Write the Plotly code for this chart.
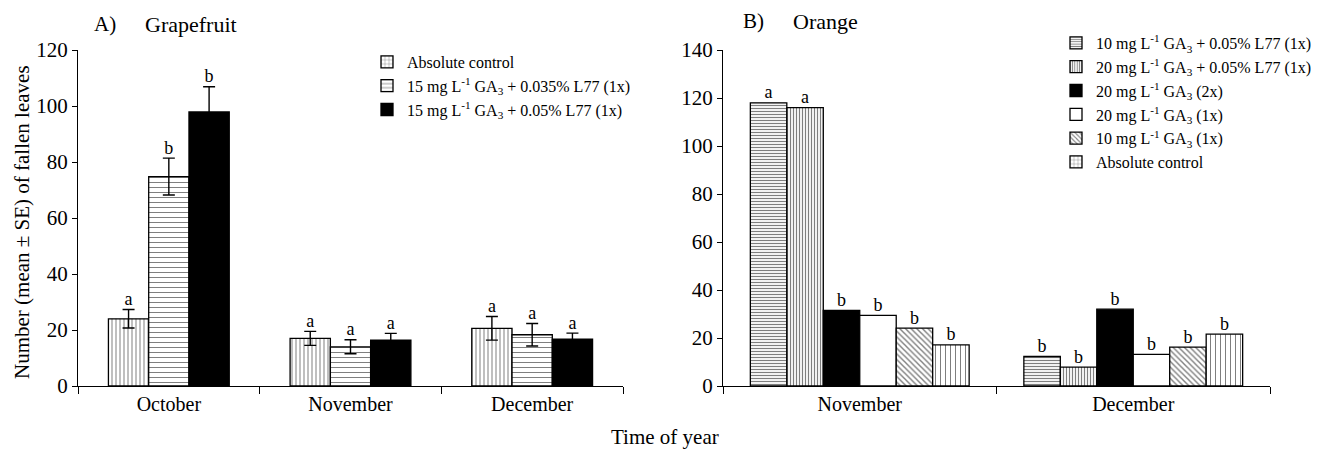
import plotly.graph_objects as go

# ---------------- data ----------------
months_a = ["October", "November", "December"]
series_a = ["Absolute control",
            "15 mg L<sup>-1</sup> GA<sub>3</sub> + 0.035% L77 (1x)",
            "15 mg L<sup>-1</sup> GA<sub>3</sub> + 0.05% L77 (1x)"]
values_a = [[24.0, 17.0, 20.6],
            [74.8, 14.0, 18.3],
            [97.9, 16.4, 16.7]]
se_a = [[3.3, 2.5, 4.2],
        [6.6, 2.5, 4.0],
        [9.0, 2.4, 2.2]]
letters_a = [["a", "a", "a"],
             ["b", "a", "a"],
             ["b", "a", "a"]]

months_b = ["November", "December"]
series_b = ["10 mg L<sup>-1</sup> GA<sub>3</sub> + 0.05% L77 (1x)",
            "20 mg L<sup>-1</sup> GA<sub>3</sub> + 0.05% L77 (1x)",
            "20 mg L<sup>-1</sup> GA<sub>3</sub> (2x)",
            "20 mg L<sup>-1</sup> GA<sub>3</sub> (1x)",
            "10 mg L<sup>-1</sup> GA<sub>3</sub> (1x)",
            "Absolute control"]
values_b = [[118.0, 12.3],
            [116.0, 7.9],
            [31.5, 32.0],
            [29.4, 13.2],
            [24.1, 16.2],
            [17.1, 21.6]]
letters_b = [["a", "b"],
             ["a", "b"],
             ["b", "b"],
             ["b", "b"],
             ["b", "b"],
             ["b", "b"]]

# ---------------- styles ----------------
FONT = "Liberation Serif"
style_a = [dict(color="white", shape="|", size=4, solidity=0.25),
           dict(color="white", shape="-", size=5, solidity=0.2),
           dict(color="black", shape="", size=4, solidity=0.2)]
legend_style_a = [dict(color="white", shape="+", size=5, solidity=0.2)] + style_a[1:]
style_b = [dict(color="white", shape="-", size=3, solidity=0.4),
           dict(color="white", shape="|", size=3, solidity=0.4),
           dict(color="black", shape="", size=3, solidity=0.3),
           dict(color="white", shape="", size=3, solidity=0.3),
           dict(color="white", shape="\\", size=4, solidity=0.35),
           dict(color="white", shape="|", size=5, solidity=0.2)]
legend_style_b = style_b[:5] + [dict(color="white", shape="+", size=5, solidity=0.2)]

# page body has an 8px margin: figure coordinates = screen coordinates - 8
OFF = 8
W, H = 1328 - OFF, 449 - OFF
MT, MB = 50 - OFF, H - (386 - OFF)


def px(xs):
    return (xs - OFF) / W


def py(ys):
    return (H - MB - (ys - OFF)) / (H - MT - MB)


fig = go.Figure()


def marker_of(st):
    m = dict(color=st["color"], line=dict(color="black", width=1.3))
    if st["shape"]:
        m["pattern"] = dict(shape=st["shape"], size=st["size"], solidity=st["solidity"],
                            fgcolor="black", bgcolor="white", fillmode="overlay")
    return m


def add_panel(cats, names, vals, ses, letters, styles, lstyles, group_w, xa, ya, legend):
    n = len(names)
    bw = group_w / n
    for i in range(n):
        xs = [j + (i - (n - 1) / 2) * bw for j in range(len(cats))]
        fig.add_trace(go.Bar(x=[None], y=[None], name=names[i], marker=marker_of(lstyles[i]),
                             xaxis=xa, yaxis=ya, legend=legend,
                             showlegend=True, hoverinfo="skip"))
        err = None
        tops = list(vals[i])
        if ses is not None:
            err = dict(type="data", array=ses[i], visible=True, color="black",
                       thickness=1.4, width=6)
            tops = [v + s for v, s in zip(vals[i], ses[i])]
        fig.add_trace(go.Bar(x=xs, y=vals[i], width=[bw] * len(cats), name=names[i],
                             marker=marker_of(styles[i]), error_y=err,
                             xaxis=xa, yaxis=ya, showlegend=False))
        fig.add_trace(go.Scatter(x=xs, y=tops, mode="text", text=letters[i],
                                 textposition="top center",
                                 textfont=dict(family=FONT, size=18, color="black"),
                                 xaxis=xa, yaxis=ya, showlegend=False, hoverinfo="skip"))


add_panel(months_a, series_a, values_a, se_a, letters_a, style_a, legend_style_a,
          0.665, "x", "y", "legend")
add_panel(months_b, series_b, values_b, None, letters_b, style_b, legend_style_b,
          0.80, "x2", "y2", "legend2")


def xaxis_cfg(cats, dom):
    return dict(domain=dom, range=[-0.5, len(cats) - 0.5], tickmode="array",
                tickvals=list(range(len(cats))), ticktext=cats, ticks="",
                showline=True, linecolor="black", linewidth=1.3, showgrid=False,
                zeroline=False, tickfont=dict(family=FONT, size=20, color="black"),
                minor=dict(tickmode="linear", tick0=-0.5, dtick=1, ticks="outside",
                           ticklen=7, tickcolor="black", tickwidth=1.2, showgrid=False))


def yaxis_cfg(rng, anchor):
    return dict(range=rng, dtick=20, ticks="outside", ticklen=5, tickcolor="black",
                tickwidth=1.2, showline=True, linecolor="black", linewidth=1.3,
                showgrid=False, zeroline=False, anchor=anchor,
                tickfont=dict(family=FONT, size=21, color="black"))


def note(text, xs, ys, size, anchor="left", angle=0):
    return dict(text=text, x=px(xs), y=py(ys), xref="paper", yref="paper",
                xanchor=anchor, yanchor="middle", showarrow=False, textangle=angle,
                font=dict(family=FONT, size=size, color="black"))


fig.update_layout(
    width=W, height=H,
    margin=dict(l=0, r=0, t=MT, b=MB),
    paper_bgcolor="white", plot_bgcolor="white",
    barmode="overlay",
    font=dict(family=FONT, color="black"),
    xaxis=xaxis_cfg(months_a, [px(78), px(623)]),
    yaxis=yaxis_cfg([0, 120], "x"),
    xaxis2=dict(xaxis_cfg(months_b, [px(723), px(1270)]), anchor="y2"),
    yaxis2=yaxis_cfg([0, 140], "x2"),
    legend=dict(x=px(407) - 40 / W, y=py(45), xanchor="left", yanchor="top",
                bgcolor="rgba(0,0,0,0)", font=dict(family=FONT, size=16, color="black"),
                itemwidth=30, tracegroupgap=0),
    legend2=dict(x=px(1096) - 40 / W, y=py(26), xanchor="left", yanchor="top",
                 bgcolor="rgba(0,0,0,0)", font=dict(family=FONT, size=16, color="black"),
                 itemwidth=30, tracegroupgap=0),
    annotations=[
        note("A)", 92, 24, 21),
        note("Grapefruit", 143, 24, 22),
        note("B)", 741, 21, 21),
        note("Orange", 791, 21, 22),
        note("Time of year", 665, 437, 21, anchor="center"),
        note("Number (mean ± SE) of fallen leaves", 22, 222, 21, anchor="center", angle=-90),
    ],
)

fig.write_html("out.html")
